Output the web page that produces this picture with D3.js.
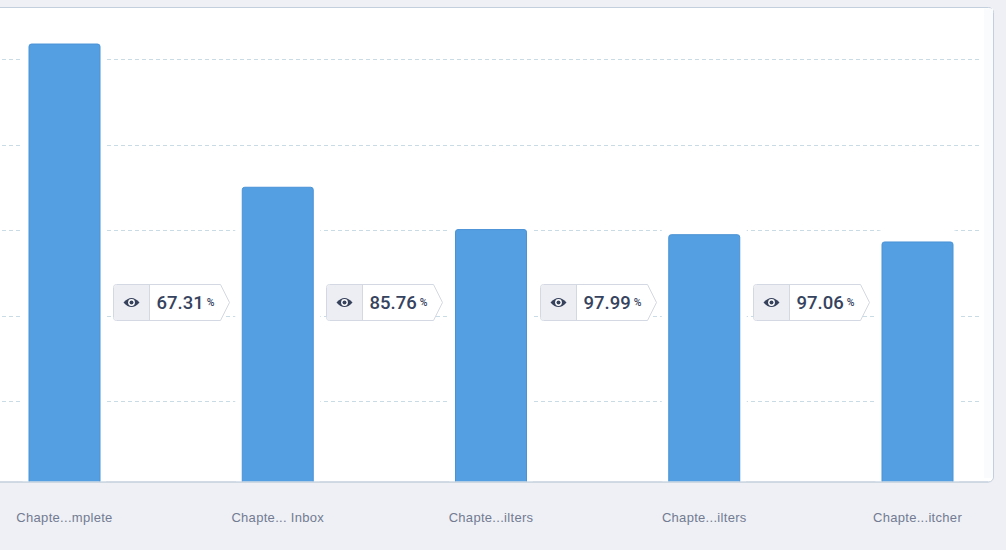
<!DOCTYPE html>
<html>
<head>
<meta charset="utf-8">
<script src="https://cdn.jsdelivr.net/npm/d3@7"></script>
<style>
  html, body { margin: 0; padding: 0; background: #eef0f5; overflow: hidden; }
  svg { display: block; font-family: "Helvetica Neue", "Liberation Sans", Arial, sans-serif; }
</style>
</head>
<body>
<div id="chart"></div>
<script>
// Data
const steps = ["Chapte...mplete", "Chapte... Inbox", "Chapte...ilters", "Chapte...ilters ", "Chapte...itcher"];
const users = [1035, 700, 601, 589, 572];
const conversion = [67.31, 85.76, 97.99, 97.06];
const gridTicks = [200, 400, 600, 800, 1000];

const W = 1006, H = 550;
const panel = {left: -20, top: 7.5, right: 993.5, bottom: 482};

const svg = d3.select("#chart").append("svg")
  .attr("width", W)
  .attr("height", H);

// Scales
const x = d3.scalePoint()
  .domain(steps)
  .range([64.5, 917.5]);
const barW = 71;

const y = d3.scaleLinear()
  .domain([0, 1000])
  .range([486.5, 59]);

// panel
svg.append("rect")
  .attr("x", panel.left)
  .attr("y", panel.top)
  .attr("width", panel.right - panel.left)
  .attr("height", panel.bottom - panel.top)
  .attr("rx", 5)
  .attr("fill", "#ffffff")
  .attr("stroke", "#c3cfdc");

svg.append("rect")
  .attr("x", 984)
  .attr("y", panel.top + 1)
  .attr("width", 9)
  .attr("height", panel.bottom - panel.top - 5)
  .attr("fill", "#fafbfc");

svg.append("clipPath").attr("id", "plot")
  .append("rect")
  .attr("x", panel.left)
  .attr("y", panel.top)
  .attr("width", panel.right - panel.left)
  .attr("height", panel.bottom - panel.top - 0.5);

const g = svg.append("g").attr("clip-path", "url(#plot)");

// grid
g.selectAll(".grid")
  .data(gridTicks)
.enter().append("line")
  .attr("class", "grid")
  .attr("x1", 2)
  .attr("x2", 982)
  .attr("y1", d => Math.round(y(d)) + 0.5)
  .attr("y2", d => Math.round(y(d)) + 0.5)
  .attr("stroke", "#c9dbe5")
  .attr("stroke-dasharray", "4,3");

// white halo behind bars (breaks the grid)
g.selectAll(".halo")
  .data(steps)
.enter().append("rect")
  .attr("class", "halo")
  .attr("x", d => x(d) - barW / 2 - 7)
  .attr("y", (d, i) => y(users[i]) - 12)
  .attr("width", barW + 14)
  .attr("height", (d, i) => y(0) - y(users[i]) + 12)
  .attr("rx", 8)
  .attr("fill", "#ffffff");

// bars
g.selectAll(".bar")
  .data(steps)
.enter().append("rect")
  .attr("class", "bar")
  .attr("x", d => x(d) - barW / 2)
  .attr("y", (d, i) => y(users[i]))
  .attr("width", barW)
  .attr("height", (d, i) => y(0) - y(users[i]) + 4)
  .attr("rx", 2.5)
  .attr("fill", "#549fe1")
  .attr("stroke", "#4a92d6")
  .attr("stroke-width", 1);

// bottom border redrawn over the bars
svg.append("line")
  .attr("x1", panel.left)
  .attr("x2", panel.right - 5)
  .attr("y1", panel.bottom)
  .attr("y2", panel.bottom)
  .attr("stroke", "#c3cfdc");

// conversion badges
const badgeW = 107, badgeH = 36, iconW = 36, tip = 9, badgeCy = 302.5;
const badge = svg.selectAll(".badge")
  .data(conversion)
.enter().append("g")
  .attr("class", "badge")
  .attr("transform", (d, i) => {
    const mid = (x(steps[i]) + x(steps[i + 1])) / 2;
    return `translate(${Math.round(mid - (badgeW + tip) / 2) + 0.5}, ${badgeCy - badgeH / 2})`;
  });

badge.append("path")
  .attr("d", `M3,0 H${badgeW} L${badgeW + tip},${badgeH / 2} L${badgeW},${badgeH} H3 Q0,${badgeH} 0,${badgeH - 3} V3 Q0,0 3,0 Z`)
  .attr("fill", "#ffffff")
  .attr("stroke", "#d3d8e2");

badge.append("path")
  .attr("d", `M3,0.5 H${iconW} V${badgeH - 0.5} H3 Q0.5,${badgeH - 0.5} 0.5,${badgeH - 3} V3 Q0.5,0.5 3,0.5 Z`)
  .attr("fill", "#eceef3")
  .attr("stroke", "none");

badge.append("line")
  .attr("x1", iconW).attr("x2", iconW)
  .attr("y1", 0).attr("y2", badgeH)
  .attr("stroke", "#d3d8e2");

// eye icon
const eye = badge.append("g")
  .attr("transform", `translate(${iconW / 2}, ${badgeH / 2})`);
eye.append("path")
  .attr("d", "M-8,0 Q0,-9 8,0 Q0,9 -8,0 Z")
  .attr("fill", "#36415c");
eye.append("circle").attr("r", 3.4).attr("fill", "#ffffff");
eye.append("circle").attr("r", 2).attr("fill", "#36415c");

const label = badge.append("text")
  .attr("x", iconW + 7)
  .attr("y", badgeH / 2 + 6.5)
  .attr("fill", "#36435e")
  .attr("font-family", "Roboto, 'Liberation Sans', sans-serif")
  .attr("font-weight", 500);
label.append("tspan")
  .attr("font-size", 18.5)
  .text(d => d3.format(".2f")(d));
label.append("tspan")
  .attr("font-size", 10.5)
  .attr("dx", 3)
  .attr("dy", -3)
  .text("%");

// x labels
svg.selectAll(".xlabel")
  .data(steps)
.enter().append("text")
  .attr("class", "xlabel")
  .attr("x", d => x(d))
  .attr("y", 522)
  .attr("text-anchor", "middle")
  .attr("font-size", 13)
  .attr("letter-spacing", 0.3)
  .attr("fill", "#737b92")
  .text(d => d.trim());
</script>
</body>
</html>
